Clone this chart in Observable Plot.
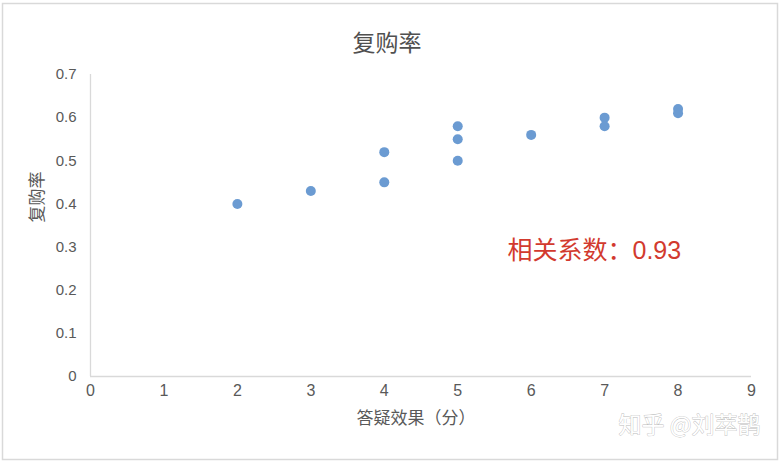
<!DOCTYPE html>
<html>
<head>
<meta charset="utf-8">
<script src="https://cdn.jsdelivr.net/npm/d3@7"></script>
<script src="https://cdn.jsdelivr.net/npm/@observablehq/plot@0.6"></script>
<style>
  html, body { margin: 0; padding: 0; background: #fff; }
  #chart { width: 782px; height: 464px; }
</style>
</head>
<body>
<div id="chart"></div>
<script>
// 答疑效果（分）与复购率
const scores = [2, 3, 4, 4, 5, 5, 5, 6, 7, 7, 8, 8];
const rates  = [0.40, 0.43, 0.52, 0.45, 0.58, 0.55, 0.50, 0.56, 0.60, 0.58, 0.62, 0.61];

const xTicks = [0, 1, 2, 3, 4, 5, 6, 7, 8, 9];
const yTicks = [0, 0.1, 0.2, 0.3, 0.4, 0.5, 0.6, 0.7];
const yTickLabels = ["0", "0.1", "0.2", "0.3", "0.4", "0.5", "0.6", "0.7"];

const title = "复购率";
const xLabel = "答疑效果（分）";
const yLabel = "复购率";
const corrText = "相关系数：0.93";
const corrPos = {x: 6.86, y: 0.292};
const watermark = "知乎 @刘萃鹊";

const points = scores.map((s, i) => ({score: s, rate: rates[i]}));

const latin = "'Liberation Sans', Arial, 'Noto Sans CJK SC', sans-serif";
const cjk = "'Noto Sans CJK SC', 'Liberation Sans', sans-serif";
const grey = "#595959";

const chart = Plot.plot({
  width: 782,
  height: 464,
  marginLeft: 90,
  marginRight: 31,
  marginTop: 74,
  marginBottom: 88,
  style: {fontFamily: latin, background: "#fff", color: grey},
  x: {domain: [0, 9]},
  y: {domain: [0, 0.7]},
  marks: [
    Plot.ruleY([0], {stroke: "#d9d9d9", strokeWidth: 1.3}),
    Plot.ruleX([0], {stroke: "#d9d9d9", strokeWidth: 1.3}),
    Plot.axisX({ticks: xTicks, tickSize: 0, tickPadding: 8, fontSize: 16, label: null, fill: grey}),
    Plot.axisY({ticks: yTicks, tickSize: 0, tickPadding: 14, fontSize: 15, label: null, fill: grey,
                tickFormat: (d) => yTickLabels[yTicks.indexOf(d)]}),
    Plot.dot(points, {x: "score", y: "rate", r: 5, fill: "#6b9bd2", stroke: "none"}),
    Plot.text([corrText], {x: () => corrPos.x, y: () => corrPos.y, text: (d) => d,
      fontSize: 25, fill: "#d23a2e", fontFamily: latin, textAnchor: "middle"}),
    Plot.text([title], {frameAnchor: "top", dx: -34, dy: -40, text: (d) => d,
      fontSize: 23, fill: "#505050", fontFamily: cjk}),
    Plot.text([xLabel], {frameAnchor: "bottom", dx: -5, dy: 47, text: (d) => d,
      fontSize: 17, fill: grey, fontFamily: cjk}),
    Plot.text([yLabel], {frameAnchor: "left", dx: -53, dy: -3, rotate: -90, text: (d) => d,
      fontSize: 17, fill: grey, fontFamily: cjk}),
    Plot.text([watermark], {frameAnchor: "bottom-right", dx: 9, dy: 56, text: (d) => d,
      textAnchor: "end", fontSize: 23, fill: "#ffffff", stroke: "#bdbdbd", strokeWidth: 0.8,
      fontFamily: cjk})
  ]
});

// outer chart border
d3.select(chart).insert("rect", ":first-child")
  .attr("x", 2.5).attr("y", 3.5).attr("width", 775).attr("height", 456)
  .attr("fill", "#fff").attr("stroke", "#d9d9d9").attr("stroke-width", 1.5);

document.getElementById("chart").append(chart);
</script>
</body>
</html>
